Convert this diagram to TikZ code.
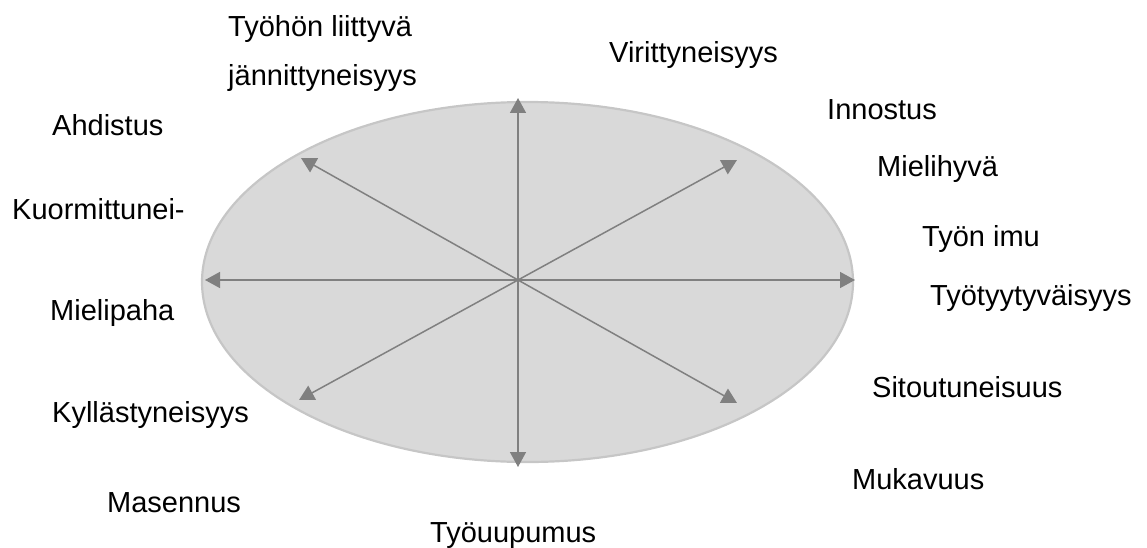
\documentclass[tikz,border=0pt]{standalone}
\usepackage{fontspec}
\setmainfont{Liberation Sans}
\usetikzlibrary{arrows.meta,shapes.geometric}
\definecolor{fillgray}{HTML}{D9D9D9}
\definecolor{rimgray}{HTML}{C6C6C6}
\definecolor{axisgray}{HTML}{808080}
\tikzset{
>={Triangle[length=15pt,width=16pt]},
  tunne/.style={
    anchor=base west,
    inner sep=0pt,
    font=\fontsize{29}{35}\selectfont},
  kehys/.style={
    ellipse,
    fill=fillgray,
    draw=rimgray, line width=2.2pt,
    minimum width=651pt,
    minimum height=360pt},
  akseli/.style={->, draw=axisgray, line width=1.5pt},
}
\begin{document}
\begin{tikzpicture}[x=1pt,y=-1pt]
    \useasboundingbox (0,0) rectangle (1147,548);
    \node[kehys] (oval) at (527.5,282) {};
    % axis ends
    \coordinate (c)  at (518,280);
    \coordinate (n)  at (518,98);
    \coordinate (s)  at (518,467);
    \coordinate (w)  at (205,280);
    \coordinate (e)  at (855,280);
    \coordinate (nw) at (301,158);
    \coordinate (ne) at (737,160);
    \coordinate (sw) at (299,400);
    \coordinate (se) at (737,403);
    \foreach \k in {n,s,w,e,nw,ne,sw,se}
        \draw[akseli] (c) -- (\k);
    % labels
    \node[tunne] (tyohon)  at (228,37)  {Työhön liittyvä};
    \node[tunne] (jann)    at (228,86)  {jännittyneisyys};
    \node[tunne] (virit)   at (609,63)  {Virittyneisyys};
    \node[tunne] (innostus) at (827,120) {Innostus};
    \node[tunne] (ahdistus) at (52,136) {Ahdistus};
    \node[tunne] (mielihyva) at (877,176) {Mielihyvä};
    \node[tunne] (kuorm)   at (12,219)  {Kuormittunei-};
    \node[tunne] (imu)     at (922,246) {Työn imu};
    \node[tunne] (tyytyv)  at (930,305) {Työtyytyväisyys};
    \node[tunne] (mielipaha) at (50,320) {Mielipaha};
    \node[tunne] (sitout)  at (872,397) {Sitoutuneisuus};
    \node[tunne] (kyllast) at (52,422)  {Kyllästyneisyys};
    \node[tunne] (mukavuus) at (852,489) {Mukavuus};
    \node[tunne] (masennus) at (107,512) {Masennus};
    \node[tunne] (uupumus) at (430,542) {Työuupumus};
\end{tikzpicture}
\end{document}
